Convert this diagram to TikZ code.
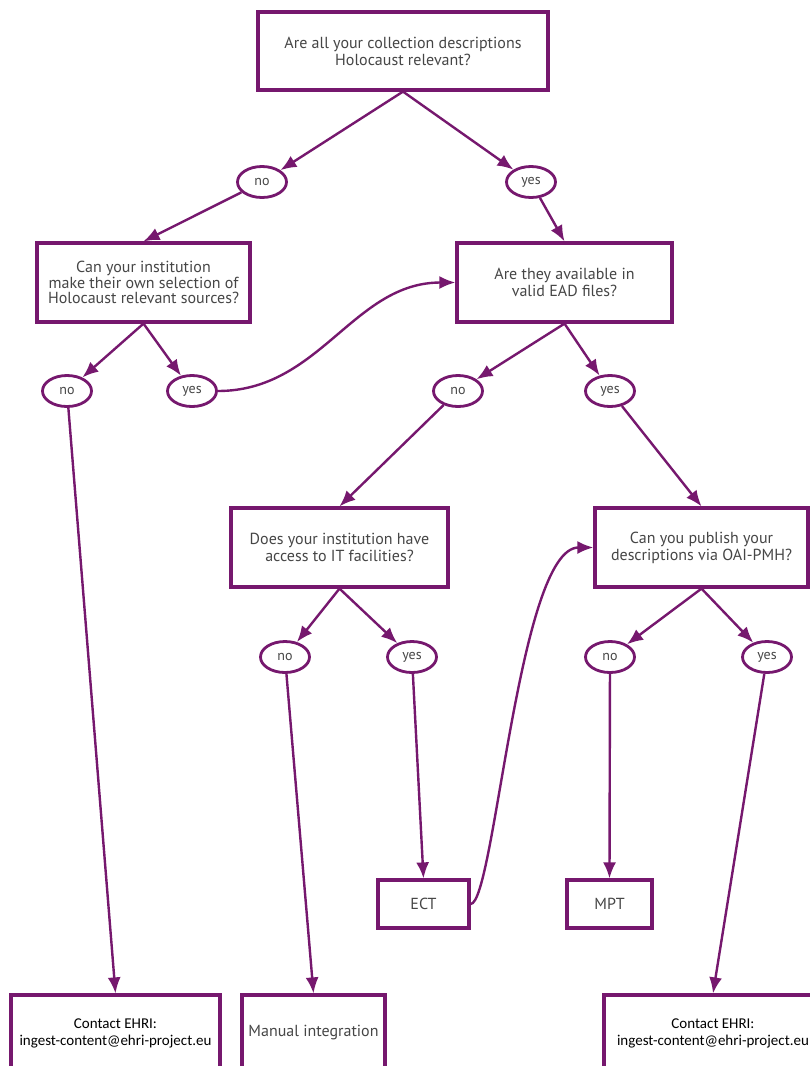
\documentclass[tikz,border=0pt]{standalone}
\usepackage{fontspec}
\setmainfont{PT Sans}
\newfontfamily\calib{Carlito}
\usetikzlibrary{arrows.meta,shapes.geometric}
\definecolor{ehripurple}{RGB}{118,24,110}
\definecolor{qgrey}{RGB}{70,70,70}
\begin{document}
\begin{tikzpicture}[x=1pt,y=-1pt,
  qbox/.style={draw=ehripurple, line width=3.2pt, fill=white, align=center, text=qgrey,
    font=\fontsize{16}{17}\selectfont, inner sep=0pt},
  cbox/.style={qbox, text=black, font=\calib\fontsize{15}{17}\selectfont},
  ans/.style={ellipse, draw=ehripurple, line width=2.8pt, fill=white, minimum width=49pt,
    minimum height=31pt, inner sep=0pt, text=qgrey, font=\fontsize{14}{14}\selectfont},
  arr/.style={draw=ehripurple, line width=2.4pt, -{Latex[length=16pt,width=13pt]}},
]
\useasboundingbox (0,0) rectangle (810,1066);
\clip (0,0) rectangle (810,1066);
\fill[white] (0,0) rectangle (810,1066);

\node[qbox, minimum width=290pt, minimum height=78pt] (q1) at (403,51) {Are all your collection descriptions\\Holocaust relevant?};
\node[ans] (n1) at (262,182) {no};
\node[ans] (y1) at (531,182) {yes};
\node[qbox, minimum width=213pt, minimum height=79pt, font=\fontsize{16}{15.5}\selectfont] (q2) at (143.5,282.5) {Can your institution\\make their own selection of\\Holocaust relevant sources?};
\node[qbox, minimum width=215pt, minimum height=79pt] (q3) at (564.5,282.5) {Are they available in\\valid EAD files?};
\node[ans] (n2) at (67,391) {no};
\node[ans] (y2) at (192,391) {yes};
\node[ans] (n3) at (458,391) {no};
\node[ans] (y3) at (610,391) {yes};
\node[qbox, minimum width=217pt, minimum height=79pt] (q4) at (339.5,547.5) {Does your institution have\\access to IT facilities?};
\node[qbox, minimum width=213pt, minimum height=79pt] (q5) at (701.5,547.5) {Can you publish your\\descriptions via OAI-PMH?};
\node[ans] (n4) at (285,657) {no};
\node[ans] (y4) at (412,657) {yes};
\node[ans] (n5) at (610,657) {no};
\node[ans] (y5) at (767,657) {yes};
\node[qbox, minimum width=91pt, minimum height=48pt] (ect) at (423.5,904) {ECT};
\node[qbox, minimum width=85pt, minimum height=48pt] (mpt) at (609.5,904) {MPT};
\node[cbox, minimum width=209pt, minimum height=76pt] (c1) at (115.5,1033) {Contact EHRI:\\ingest-content@ehri-project.eu};
\node[qbox, minimum width=143pt, minimum height=76pt] (man) at (313.5,1033) {Manual integration};
\node[cbox, minimum width=218pt, minimum height=76pt] (c2) at (713,1033) {Contact EHRI:\\ingest-content@ehri-project.eu};

\draw[arr] (q1.south) -- (n1);
\draw[arr] (q1.south) -- (y1);
\draw[arr] (n1) -- (q2.north);
\draw[arr] (y1) -- (q3.north);
\draw[arr] (q2.south) -- (n2);
\draw[arr] (q2.south) -- (y2);
\draw[arr] (y2.east) to[out=0,in=180] (q3.west);
\draw[arr] (q3.south) -- (n3);
\draw[arr] (q3.south) -- (y3);
\draw[arr] (n3) -- (q4.north);
\draw[arr] (y3) -- (q5.north);
\draw[arr] (q4.south) -- (n4);
\draw[arr] (q4.south) -- (y4);
\draw[arr] (q5.south) -- (n5);
\draw[arr] (q5.south) -- (y5);
\draw[arr] (n2) -- (c1.north);
\draw[arr] (n4) -- (man.north);
\draw[arr] (y4) -- (ect.north);
\draw[arr] (n5) -- (mpt.north);
\draw[arr] (y5) -- (c2.north);
\draw[arr] (ect.east) to[out=0,in=180,out distance=24pt,in distance=75pt] (q5.west);
\end{tikzpicture}
\end{document}
